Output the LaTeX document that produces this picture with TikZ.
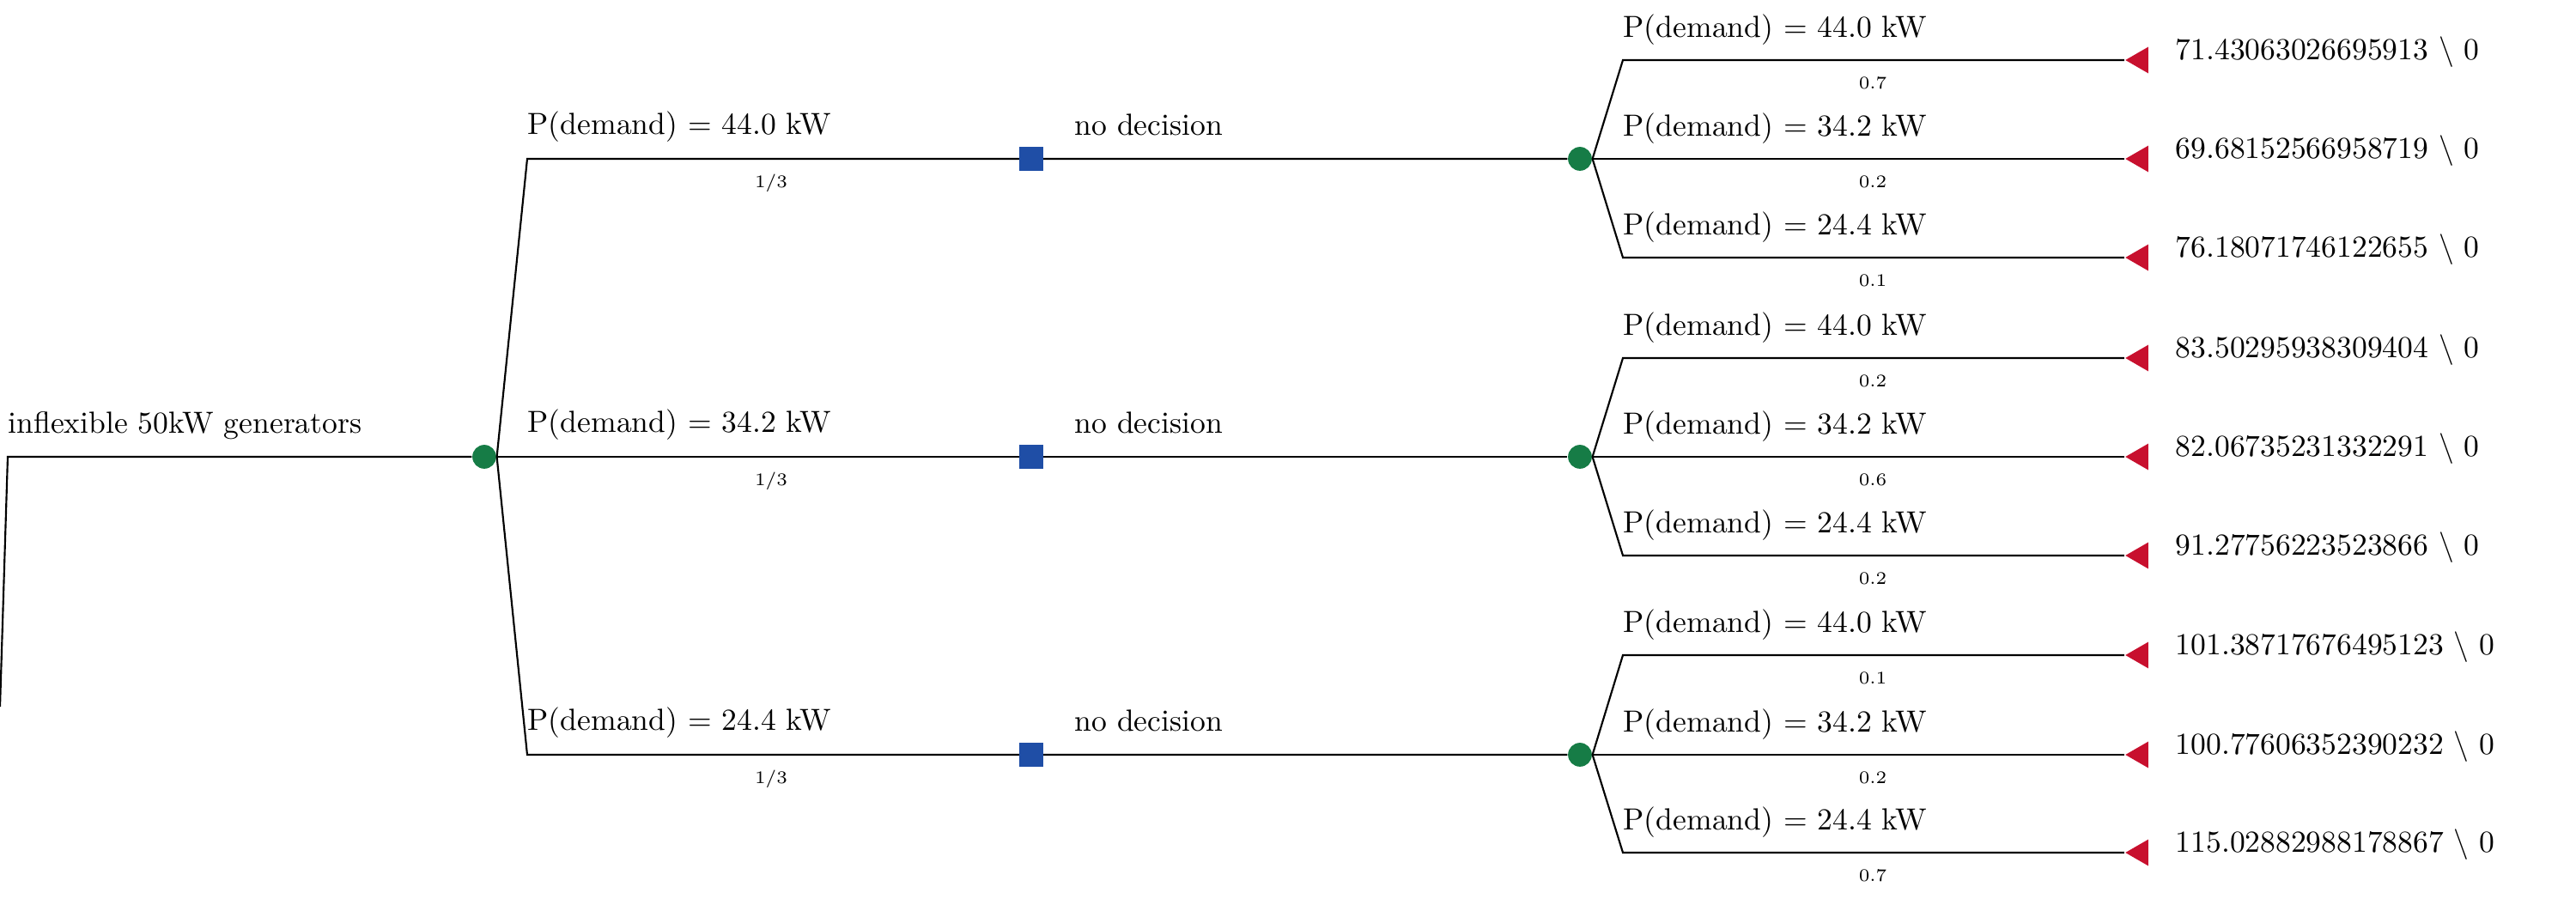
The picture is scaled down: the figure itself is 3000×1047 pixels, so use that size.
\documentclass[tikz,border=0pt]{standalone}
\usetikzlibrary{shapes.geometric}
\definecolor{chancegreen}{RGB}{22,124,70}
\definecolor{decblue}{RGB}{31,78,166}
\definecolor{termred}{RGB}{200,16,46}
\begin{document}
\begin{tikzpicture}[x=0.281pt,y=-0.281pt,
  edge/.style={draw=black,line width=0.6pt},
  chance/.style={circle,fill=chancegreen,inner sep=0pt,minimum size=7.8pt},
  decision/.style={rectangle,fill=decblue,inner sep=0pt,minimum size=7.6pt},
  terminal/.style={regular polygon,regular polygon sides=3,shape border rotate=90,fill=termred,inner sep=0pt,minimum size=10pt},
  lbl/.style={anchor=base west,inner sep=0pt,font=\normalsize},
  prob/.style={anchor=center,inner sep=0pt,font=\fontsize{5.8}{7}\selectfont},
]
\useasboundingbox (0,0) rectangle (3000,1047);
% root
\coordinate (r0) at (0,823);
\coordinate (r1) at (9,532);
\node[chance] (c0) at (564,532) {};
\draw[edge] (r0) -- (r1) -- (c0);
\node[lbl] (l0) at (9,505) {inflexible 50kW generators};
% level 2
\foreach \i/\y/\dem in {1/185/44.0,2/532/34.2,3/879/24.4}{
  \coordinate (b\i) at (614,\y);
  \node[decision] (d\i) at (1201,\y) {};
  \node[chance] (c\i) at (1840,\y) {};
  \draw[edge] (c0.east) -- (b\i) -- (d\i) -- (c\i);
  \node[lbl] (lb\i) at (614,\y-28) {P(demand) $=$ \dem\ kW};
  \node[prob] (pb\i) at (898,\y+28) {1/3};
  \node[lbl] (nd\i) at (1251,\y-27) {no decision};
}
% level 3
\foreach \n/\k/\y/\dem/\p/\v in {
  1/1/70/44.0/0.7/71.43063026695913,
  2/1/185/34.2/0.2/69.68152566958719,
  3/1/300/24.4/0.1/76.18071746122655,
  4/2/417/44.0/0.2/83.50295938309404,
  5/2/532/34.2/0.6/82.06735231332291,
  6/2/647/24.4/0.2/91.27756223523866,
  7/3/763/44.0/0.1/101.38717676495123,
  8/3/879/34.2/0.2/100.77606352390232,
  9/3/993/24.4/0.7/115.02882988178867}{
  \coordinate (e\n) at (1890,\y);
  \node[terminal] (t\n) at (2493,\y) {};
  \draw[edge] (c\k.east) -- (e\n) -- (t\n);
  \node[lbl] (lp\n) at (1890,\y-26) {P(demand) $=$ \dem\ kW};
  \node[prob] (pp\n) at (2181,\y+27) {\p};
  \node[lbl] (v\n) at (2533,\y) {\v\ $\setminus$ 0};
}
\end{tikzpicture}
\end{document}
